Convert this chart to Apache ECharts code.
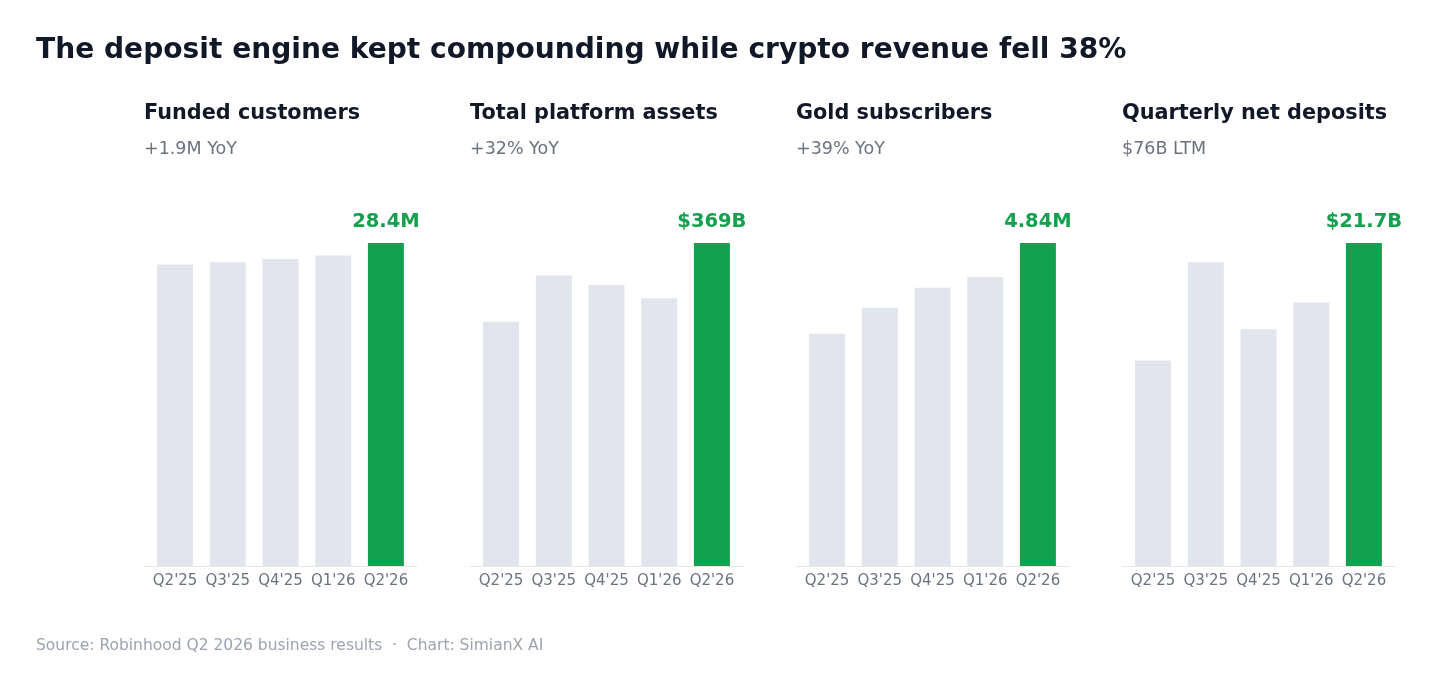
<!DOCTYPE html>
<html>
<head>
<meta charset="utf-8">
<script src="https://cdn.jsdelivr.net/npm/echarts@6/dist/echarts.min.js"></script>
<style>
  html, body { margin: 0; padding: 0; background: #ffffff; }
  #chart { width: 1438px; height: 689px; }
</style>
</head>
<body>
<div id="chart"></div>
<script>
const quarters = ["Q2'25", "Q3'25", "Q4'25", "Q1'26", "Q2'26"];

// funded customers, millions
const fundedCustomers = [26.5, 26.7, 27.0, 27.3, 28.4];
// total platform assets, $B
const platformAssets = [279, 332, 321, 306, 369];
// gold subscribers, millions
const goldSubscribers = [3.48, 3.87, 4.17, 4.33, 4.84];
// quarterly net deposits, $B
const netDeposits = [13.8, 20.4, 15.9, 17.7, 21.7];

const panelTitles = ["Funded customers", "Total platform assets", "Gold subscribers", "Quarterly net deposits"];
const panelSubtitles = ["+1.9M YoY", "+32% YoY", "+39% YoY", "$76B LTM"];
const labelPrefix = ["", "$", "", "$"];
const labelSuffix = ["M", "B", "M", "B"];
const labelDecimals = [1, 0, 2, 1];

const panels = [fundedCustomers, platformAssets, goldSubscribers, netDeposits];

const FONT = "DejaVu Sans";
const GREEN = "#13a14f";
const GREY_BAR = "#e2e5ed";
const panelLeft = [144, 470, 796, 1122];
const panelWidth = 273;

const titles = [
  {
    text: "The deposit engine kept compounding while crypto revenue fell 38%",
    left: 36,
    top: 37,
    padding: 0,
    textStyle: { fontFamily: FONT, fontSize: 28.1, fontWeight: "bold", color: "#111827" },
  },
  {
    text: "Source: Robinhood Q2 2026 business results  \u00b7  Chart: SimianX AI",
    left: 36,
    top: 638,
    padding: 0,
    textStyle: { fontFamily: FONT, fontSize: 15.5, fontWeight: "normal", color: "#9ca3af" },
  },
];
const grids = [];
const xAxes = [];
const yAxes = [];
const series = [];

for (var i = 0; i < panels.length; i++) {
  titles.push({
    text: panelTitles[i],
    left: panelLeft[i],
    top: 103,
    padding: 0,
    textStyle: { fontFamily: FONT, fontSize: 20.8, fontWeight: "bold", color: "#111827" },
  });
  titles.push({
    text: panelSubtitles[i],
    left: panelLeft[i],
    top: 140,
    padding: 0,
    textStyle: { fontFamily: FONT, fontSize: 17.5, fontWeight: "normal", color: "#6b7280" },
  });
  grids.push({ left: panelLeft[i], width: panelWidth, top: 243, bottom: 123 });
  xAxes.push({
    type: "value",
    gridIndex: i,
    min: -0.59,
    max: 4.59,
    splitLine: { show: false },
    axisTick: { show: false },
    axisLine: { show: true, lineStyle: { color: "#e5e7eb", width: 1 } },
    axisLabel: {
      customValues: [0, 1, 2, 3, 4],
      formatter: (v) => quarters[Math.round(v)],
      color: "#6b7280",
      fontFamily: FONT,
      fontSize: 15,
      margin: 8,
    },
  });
  yAxes.push({ type: "value", gridIndex: i, min: 0, max: "dataMax", show: false });

  const vals = panels[i];
  const idx = i;
  series.push({
    type: "bar",
    xAxisIndex: i,
    yAxisIndex: i,
    barWidth: 36,
    silent: true,
    data: vals.map((v, k) => ({
      value: [k, v],
      itemStyle: { color: k === vals.length - 1 ? GREEN : GREY_BAR },
      label: {
        show: k === vals.length - 1,
        position: "top",
        distance: 11,
        formatter: () => labelPrefix[idx] + v.toFixed(labelDecimals[idx]) + labelSuffix[idx],
        color: GREEN,
        fontFamily: FONT,
        fontSize: 19.5,
        fontWeight: "bold",
      },
    })),
  });
}

const myChart = echarts.init(document.getElementById("chart"));
myChart.setOption({
  backgroundColor: "#ffffff",
  animation: false,
  title: titles,
  grid: grids,
  xAxis: xAxes,
  yAxis: yAxes,
  series: series,
});
</script>
</body>
</html>
